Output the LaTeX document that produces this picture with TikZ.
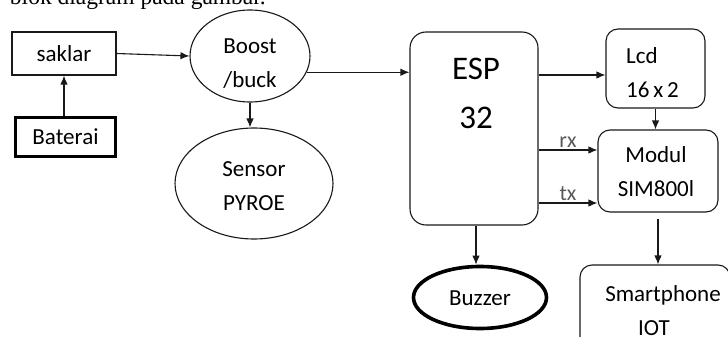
\documentclass[tikz,border=0pt]{standalone}
\usepackage{fontspec}
\setmainfont{Carlito}
\newfontfamily\captionfont{Liberation Serif}
\usetikzlibrary{arrows.meta,shapes.geometric,positioning,calc}

\begin{document}
\begin{tikzpicture}[x=1pt, y=-1pt]

\tikzset{
box/.style={draw=black!90,line width=1.1pt,minimum width=104pt,minimum height=43pt,inner sep=0pt},
rbox/.style={draw=black!90,line width=1.1pt,rounded corners=12pt,inner sep=0pt},
oval/.style={ellipse,draw=black!90,line width=1.1pt,inner sep=0pt},
txt/.style={align=center,font=\fontsize{23}{34}\selectfont,text=black,inner sep=0pt},
conn/.style={-{Latex[length=9pt,width=7.5pt]},line width=1.1pt,draw=black!90},
pin/.style={font=\fontsize{22}{24}\selectfont,text=black!65,inner sep=2pt}
}

\useasboundingbox (0,0) rectangle (728,337);

% Caption (cut off at the top)
\node[anchor=base east,inner sep=0pt] (caption) at (266,4.5) {\captionfont\fontsize{23.5}{26}\selectfont blok diagram pada gambar.};

% Nodes
\node[box,txt] (saklar) at (64,53.5) {saklar};
\node[box,txt,draw=black,line width=3.6pt,minimum width=100pt,minimum height=39pt] (baterai) at (65.5,137) {Baterai};

\node[oval,minimum width=120pt,minimum height=92pt] (boost) at (250,56) {};
\node[txt] (boostlab) at (250,64) {Boost\\/buck};

\node[oval,minimum width=158pt,minimum height=111pt] (sensor) at (254,183.5) {};
\node[txt] (sensorlab) at (254,186) {Sensor\\PYROE};

\node[rbox,minimum width=128pt,minimum height=193pt,rounded corners=16pt] (esp) at (474,128.5) {};
\node[txt,font=\fontsize{33}{49}\selectfont] (esplab) at (476,93) {ESP\\32};

\node[rbox,minimum width=99pt,minimum height=79pt] (lcd) at (655.5,68.5) {};
\node[txt,align=left,anchor=west] (lcdlab) at (626,73) {Lcd\\16\,x\,2};

\node[rbox,minimum width=120pt,minimum height=82pt] (modul) at (658,171) {};
\node[txt] (modullab) at (656,172) {Modul\\SIM800l};

\node[oval,draw=black,line width=3.6pt,minimum width=133pt,minimum height=62pt] (buzzer) at (480,297.5) {};
\node[txt] (buzzerlab) at (480,298) {Buzzer};

\node[rbox,minimum width=150pt,minimum height=84pt] (smart) at (655,307) {};
\node[txt] (smartlab) at (663,311) {Smartphone\\\hspace*{-18pt}IOT};

% Arrows
\draw[conn] (baterai.north -| saklar.south) -- (saklar.south);
\draw[conn] (saklar.east) -- (boost.west);
\draw[conn] (boost.south) -- (boost.south |- sensor.north);
\draw[conn] (boost.-16) -- (boost.-16 -| esp.west);
\draw[conn] ([yshift=-6.5pt]lcd.west -| esp.east) -- ([yshift=-6.5pt]lcd.west);
\draw[conn] (lcd.south) -- (lcd.south |- modul.north);
\draw[conn] ([yshift=21pt]modul.west -| esp.east) -- node[pin,above] (rx) {rx} ([yshift=21pt]modul.west);
\draw[conn] ([yshift=-32pt]modul.west -| esp.east) -- node[pin,above] (tx) {tx} ([yshift=-32pt]modul.west);
\draw[conn] ([xshift=2pt]esp.south) -- ([xshift=2pt]esp.south |- buzzer.north);
\draw[conn] ([yshift=-6pt]modul.south) -- (modul.south |- smart.north);

\end{tikzpicture}
\end{document}
